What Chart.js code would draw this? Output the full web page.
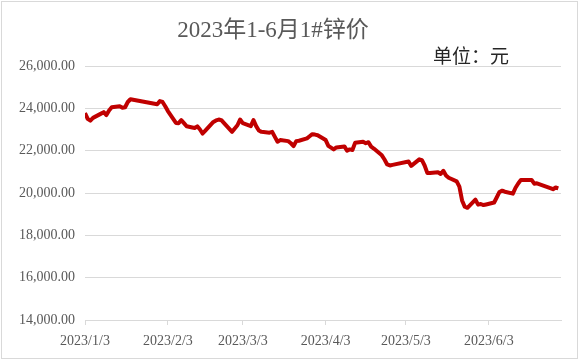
<!DOCTYPE html>
<html>
<head>
<meta charset="utf-8">
<script src="https://cdn.jsdelivr.net/npm/chart.js@4.4.1/dist/chart.umd.min.js"></script>
<style>
  body { margin: 0; background: #fff; }
  #wrap { width: 581px; height: 363px; }
</style>
</head>
<body>
<div id="wrap"><canvas id="GraphiqueZinc" width="581" height="363"></canvas></div>
<script>
// trading days (month/day, 2023) and 1# zinc price
var dates = [
  '1/3','1/4','1/5','1/6','1/9','1/10','1/11','1/12','1/13','1/16','1/17','1/18','1/19','1/20','1/30','1/31',
  '2/1','2/2','2/3','2/6','2/7','2/8','2/9','2/10','2/13','2/14','2/15','2/16','2/17','2/20','2/21','2/22','2/23','2/24','2/27','2/28',
  '3/1','3/2','3/3','3/6','3/7','3/8','3/9','3/10','3/13','3/14','3/15','3/16','3/17','3/20','3/21','3/22','3/23','3/24','3/27','3/28','3/29','3/30','3/31',
  '4/3','4/4','4/6','4/7','4/10','4/11','4/12','4/13','4/14','4/17','4/18','4/19','4/20','4/21','4/24','4/25','4/26','4/27','4/28',
  '5/4','5/5','5/8','5/9','5/10','5/11','5/12','5/15','5/16','5/17','5/18','5/19','5/22','5/23','5/24','5/25','5/26','5/29','5/30','5/31',
  '6/1','6/2','6/5','6/6','6/7','6/8','6/9','6/12','6/13','6/14','6/15','6/16','6/19','6/20','6/21','6/26','6/27','6/28','6/29'
];
var prix = [
  23780,23500,23420,23550,23750,23820,23680,23900,24050,24100,24030,24050,24300,24430,24190,24340,
  24300,24100,23870,23310,23300,23440,23300,23150,23070,23150,23000,22810,22950,23360,23430,23470,23440,23300,22890,23050,
  23200,23470,23300,23160,23440,23160,22950,22890,22850,22890,22650,22420,22500,22450,22350,22220,22450,22470,22580,22680,22780,22760,22730,
  22500,22230,22060,22150,22200,22000,22060,22030,22370,22420,22350,22400,22190,22100,21780,21580,21350,21300,21330,
  21490,21280,21590,21550,21300,20950,20940,20980,20900,21050,20830,20720,20550,20300,19650,19350,19300,19690,19450,19480,
  19430,19460,19550,19800,20050,20110,20060,19970,20250,20450,20620,20620,20620,20440,20460,20230,20180,20260,20220
];
var xTickLabels = ['2023/1/3','2023/2/3','2023/3/3','2023/4/3','2023/5/3','2023/6/3'];
var xMax = '6/30';
var yMin = 14000, yMax = 26000, yStep = 2000;

var debutMois = [0, 31, 59, 90, 120, 151];
function jour(md) {
  var p = md.split('/');
  return debutMois[+p[0] - 1] + (+p[1]);
}

var points = dates.map(function (d, i) { return { x: jour(d), y: prix[i] }; });
var xTicks = xTickLabels.map(function (l) { return jour(l.substring(5)); });

var texte = {
  id: 'texte',
  beforeDraw: function (chart) {
    var c = chart.ctx;
    c.save();
    c.fillStyle = '#fff';
    c.fillRect(0, 0, chart.width, chart.height);
    c.strokeStyle = '#d9d9d9';
    c.lineWidth = 1;
    c.strokeRect(1.5, 1.5, 576, 357);
    c.restore();
  },
  afterDraw: function (chart) {
    var c = chart.ctx;
    c.save();
    c.textBaseline = 'middle';
    c.fillStyle = '#595959';
    c.font = '23px "Liberation Serif", "Noto Sans CJK SC", serif';
    c.textAlign = 'center';
    c.fillText('2023年1-6月1#锌价', 273, 31);
    c.fillStyle = '#262626';
    c.font = '19px "Liberation Serif", "Noto Sans CJK SC", serif';
    c.textAlign = 'left';
    c.fillText('单位：元', 433, 58);
    c.restore();
  }
};

var ctx = document.getElementById('GraphiqueZinc').getContext('2d');
var graphique = new Chart(ctx, {
  type: 'line',
  data: {
    datasets: [{
      label: '1#锌价',
      data: points,
      borderColor: '#c00000',
      borderWidth: 4,
      pointRadius: 0,
      tension: 0,
      borderJoinStyle: 'round'
    }]
  },
  options: {
    responsive: false,
    animation: false,
    layout: { padding: { top: 66, right: 20, bottom: 0, left: 0 } },
    plugins: { legend: { display: false }, title: { display: false }, tooltip: { enabled: false } },
    scales: {
      x: {
        type: 'linear',
        min: jour('1/3'),
        max: jour(xMax),
        afterBuildTicks: function (scale) {
          scale.ticks = xTicks.map(function (v) { return { value: v }; });
        },
        afterFit: function (scale) { scale.height = 43; },
        grid: { drawOnChartArea: false, drawTicks: true, tickLength: 5, color: '#d9d9d9' },
        border: { display: true, color: '#d9d9d9' },
        ticks: {
          autoSkip: false,
          maxRotation: 0,
          padding: 8,
          color: '#595959',
          font: { family: '"Liberation Serif", serif', size: 14 },
          callback: function (v) {
            var i = xTicks.indexOf(v);
            return i >= 0 ? xTickLabels[i] : '';
          }
        }
      },
      y: {
        min: yMin,
        max: yMax,
        afterFit: function (scale) { scale.width = 85; },
        grid: { drawTicks: false, color: '#d9d9d9' },
        border: { display: false },
        ticks: {
          stepSize: yStep,
          padding: 10,
          color: '#595959',
          font: { family: '"Liberation Serif", serif', size: 14 },
          callback: function (v) {
            return v.toLocaleString('en-US', { minimumFractionDigits: 2, maximumFractionDigits: 2 });
          }
        }
      }
    }
  },
  plugins: [texte]
});
</script>
</body>
</html>
